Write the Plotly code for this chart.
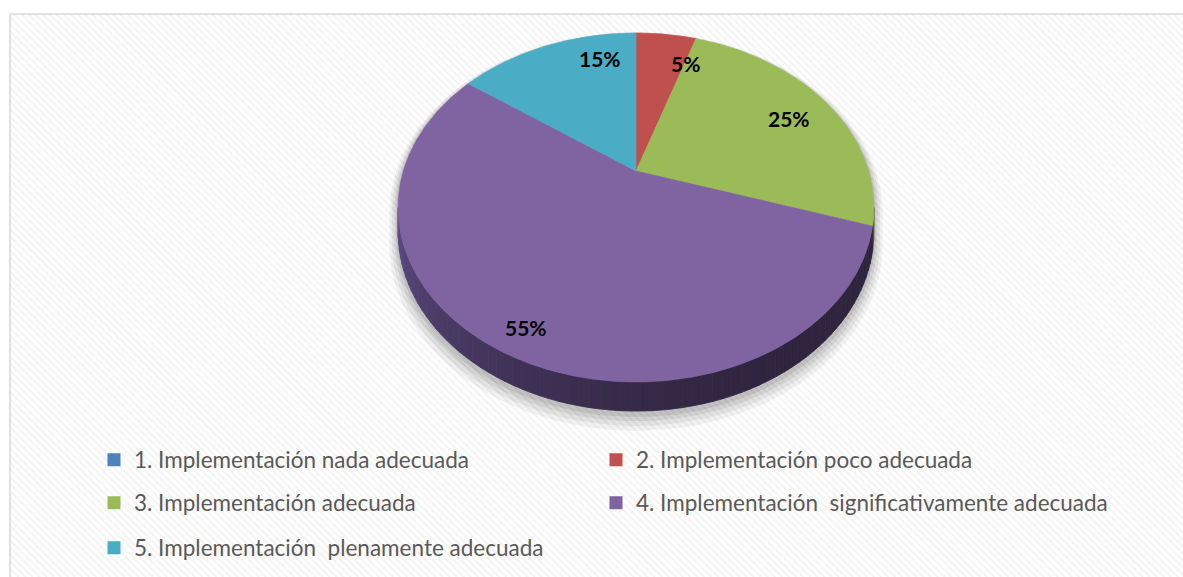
import numpy as np
import plotly.graph_objects as go

# ---------------- data ----------------
CATEGORIES = [
    "1. Implementación nada adecuada",
    "2. Implementación poco adecuada",
    "3. Implementación adecuada",
    "4. Implementación  significativamente adecuada",
    "5. Implementación  plenamente adecuada",
]
VALUES = [0, 5, 25, 55, 15]

# ---------------- style / layout ----------------
W, H = 1183, 577
TOP_COLORS = ["#4F81BD", "#C0504D", "#9BBB59", "#8064A2", "#4BACC6"]
SIDE_LIGHT = ["#3b5b86", "#8a3836", "#6f8a3c", "#5f4c85", "#34879d"]
SIDE_DARK = ["#253b57", "#5a2423", "#4a5e25", "#30253f", "#22596a"]
CX, CY = 636.0, 171.0      # apex of the pie on screen
RX, RY = 232.7, 166.9      # radii before perspective
K = 0.209                  # perspective strength
DEPTH = 23.0               # thickness of the pie
LABEL_XY = [None, (685, 63), (789, 118), (526, 327), (600, 58)]
LEGEND_COL_X = [94, 596]
LEGEND_ROW_Y = [460, 503, 548]
LEGEND_POS = [(0, 0), (1, 0), (0, 1), (1, 1), (0, 2)]   # (column, row) per entry
FONT = "Lato"


def proj(theta_deg, f=1.0, down=0.0):
    t = np.radians(theta_deg)
    u, v = f * np.sin(t), f * np.cos(t)
    w = 1 + K * v
    return CX + RX * u / w, CY - RY * v / w + down / w


def hexmix(a, b, t):
    a = [int(a[i:i + 2], 16) for i in (1, 3, 5)]
    b = [int(b[i:i + 2], 16) for i in (1, 3, 5)]
    c = [round(a[i] + (b[i] - a[i]) * t) for i in range(3)]
    return "#%02x%02x%02x" % tuple(c)


fig = go.Figure()

# hatched chart background
fig.add_trace(go.Scatter(
    x=[10, W + 20, W + 20, 10, 10], y=[14, 14, H + 20, H + 20, 14],
    mode="lines", fill="toself", line=dict(color="#d9d9d9", width=1.5),
    fillcolor="white",
    fillpattern=dict(shape="\\", fgcolor="#e6e6e6", bgcolor="white", size=5, solidity=0.35),
    hoverinfo="skip", showlegend=False))

total = sum(VALUES)
starts = np.cumsum([0] + VALUES[:-1]) / total * 360.0
ends = np.cumsum(VALUES) / total * 360.0
thL = np.degrees(np.arccos(-K))        # right silhouette (~102 deg)
thR = 360 - thL                        # left silhouette (~258 deg)

# soft shadow around the pie
for i, (grow, off, a) in enumerate([(1.035, 10, 0.05), (1.025, 8, 0.06), (1.015, 6, 0.07), (1.007, 4, 0.08)]):
    back = np.linspace(thR - 360, thL, 200)
    front = np.linspace(thL, thR, 200)
    xs, ys = [], []
    for t in back:
        x, y = proj(t, grow)
        xs.append(x); ys.append(y + off * 0.3)
    for t in front:
        x, y = proj(t, grow, DEPTH)
        xs.append(x); ys.append(y + off)
    fig.add_trace(go.Scatter(x=xs + [xs[0]], y=ys + [ys[0]], mode="lines", fill="toself",
                             line=dict(width=0), fillcolor=f"rgba(0,0,0,{a})",
                             hoverinfo="skip", showlegend=False))

# sides (visible front part), drawn as small strips for shading
for i, (a, b) in enumerate(zip(starts, ends)):
    if VALUES[i] == 0:
        continue
    lo, hi = max(a, thL), min(b, thR)
    if hi <= lo:
        continue
    edges = np.linspace(lo, hi, max(2, int((hi - lo) / 2) + 1))
    for s0, s1 in zip(edges[:-1], edges[1:]):
        mid = (s0 + s1) / 2
        t = np.clip((mid - 150) / (thR - 150), 0, 1) ** 1.6
        col = hexmix(SIDE_DARK[i], SIDE_LIGHT[i], t)
        arc = np.linspace(s0, s1, 6)
        xs = [proj(t_, 1.0)[0] for t_ in arc] + [proj(t_, 1.0, DEPTH)[0] for t_ in arc[::-1]]
        ys = [proj(t_, 1.0)[1] for t_ in arc] + [proj(t_, 1.0, DEPTH)[1] for t_ in arc[::-1]]
        fig.add_trace(go.Scatter(x=xs + [xs[0]], y=ys + [ys[0]], mode="lines", fill="toself",
                                 line=dict(width=0.8, color=col), fillcolor=col,
                                 hoverinfo="skip", showlegend=False))

# top faces
for i, (a, b) in enumerate(zip(starts, ends)):
    if VALUES[i] == 0:
        continue
    arc = np.linspace(a, b, max(3, int(b - a) * 2))
    xs = [CX] + [proj(t)[0] for t in arc] + [CX]
    ys = [CY] + [proj(t)[1] for t in arc] + [CY]
    fig.add_trace(go.Scatter(x=xs, y=ys, mode="lines", fill="toself",
                             line=dict(width=0.6, color=TOP_COLORS[i]), fillcolor=TOP_COLORS[i],
                             name=CATEGORIES[i], hoverinfo="name", showlegend=False))

# percentage labels
for i, v in enumerate(VALUES):
    if v == 0:
        continue
    lx, ly = LABEL_XY[i]
    fig.add_annotation(x=lx, y=ly, xref="x", yref="y", text=f"{round(v / total * 100)}%",
                       showarrow=False, font=dict(family=FONT, size=21, color="black", weight="bold"))

# legend white box
fig.add_shape(type="rect", xref="x", yref="y", x0=100, x1=1109, y0=436, y1=568,
              fillcolor="rgba(255,255,255,0.85)", line=dict(width=0), layer="below")

# legend entries: one legend per entry, placed in a 2-column grid
legend_layout = {}
for i, name in enumerate(CATEGORIES):
    key = "legend" if i == 0 else f"legend{i + 1}"
    fig.add_trace(go.Scatter(x=[None], y=[None], mode="markers", name=name,
                             marker=dict(symbol="square", size=13, color=TOP_COLORS[i]),
                             legend=key))
    col, row = LEGEND_POS[i]
    legend_layout[key] = dict(
        orientation="v", x=LEGEND_COL_X[col] / W, xanchor="left",
        y=1 - LEGEND_ROW_Y[row] / H, yanchor="middle",
        bgcolor="rgba(0,0,0,0)", font=dict(family=FONT, size=22.5, color="#595959"),
        itemclick=False, itemdoubleclick=False)

fig.update_layout(
    width=W, height=H,
    margin=dict(l=0, r=0, t=0, b=0),
    paper_bgcolor="white", plot_bgcolor="white",
    xaxis=dict(range=[0, W], visible=False, fixedrange=True),
    yaxis=dict(range=[H, 0], visible=False, fixedrange=True),
    showlegend=True,
    **legend_layout,
)

fig.write_html("out.html", config={"displayModeBar": False},
               post_script="document.body.style.margin='0';")
